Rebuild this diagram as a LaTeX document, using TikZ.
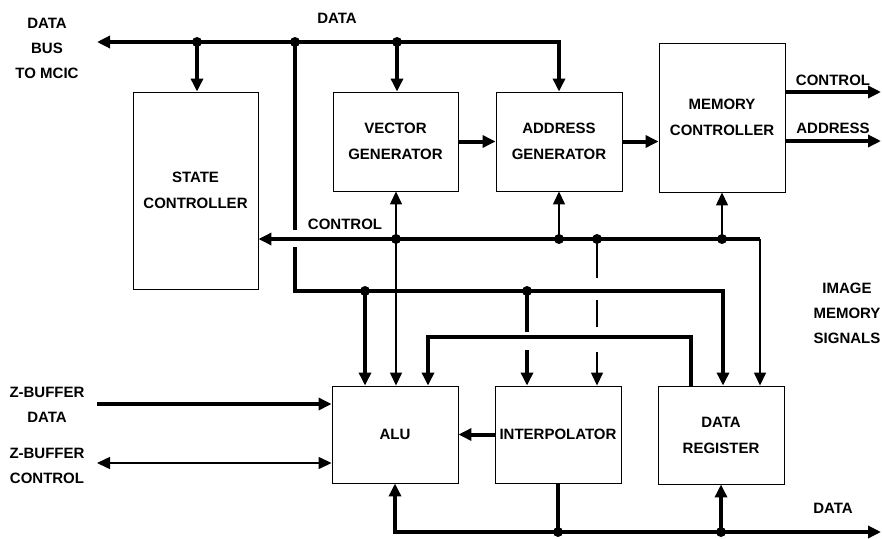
\documentclass[tikz,border=0pt]{standalone}
\usepackage{fontspec}
\setmainfont{Liberation Sans}
\usepackage{tikz}
\usetikzlibrary{arrows.meta, positioning, calc}

\begin{document}
\begin{tikzpicture}[x=10pt, y=-10pt,
    tip/.tip={Triangle[length=13pt, width=12pt]},
    block/.style={draw, line width=0.9pt, minimum width=126pt, minimum height=99pt, inner sep=0pt, align=center, font=\fontsize{15}{26}\selectfont\bfseries},
    lbl/.style={align=center, inner sep=0pt, font=\fontsize{15}{25}\selectfont\bfseries},
    bus/.style={line width=4pt},
    sig/.style={line width=1.4pt}]
  \useasboundingbox (0,0) rectangle (88.2,53.8);

  % Blocks
  \node[block, minimum width=125pt, minimum height=197pt] (state) at (19.55, 19.05) {STATE\\CONTROLLER};
  \node[block, minimum width=125pt] (vecgen) at (39.55, 14.15) {VECTOR\\GENERATOR};
  \node[block] (addrgen) at (55.9, 14.15) {ADDRESS\\GENERATOR};
  \node[block, minimum height=149pt] (memctl) at (72.2, 11.75) {MEMORY\\CONTROLLER};
  \node[block, minimum height=97pt] (alu) at (39.5, 43.45) {ALU};
  \node[block, minimum height=97pt] (interp) at (55.8, 43.45) {INTERPOLATOR};
  \node[block, minimum height=98pt] (datareg) at (72.1, 43.5) {DATA\\REGISTER};

  % Bus points
  \coordinate (dbL) at (9.7, 4.2);
  \coordinate (j1) at (19.7, 4.2);
  \coordinate (j2) at (29.5, 4.2);
  \coordinate (j3) at (39.7, 4.2);
  \coordinate (c1) at (39.6, 23.9);
  \coordinate (c2) at (55.9, 23.9);
  \coordinate (c3) at (59.7, 23.9);
  \coordinate (c4) at (72.2, 23.9);
  \coordinate (cR) at (76.0, 23.9);
  \coordinate (d0) at (29.5, 29.1);
  \coordinate (d1) at (36.5, 29.1);
  \coordinate (d2) at (52.7, 29.1);
  \coordinate (dR) at (72.3, 29.1);
  \coordinate (r1) at (69.1, 33.7);
  \coordinate (r2) at (42.8, 33.7);
  \coordinate (bR) at (88.1, 53.2);
  \coordinate (b1) at (interp.south |- bR);
  \coordinate (b2) at (datareg.south |- bR);
  \coordinate (oc) at (88.1, 9.2);
  \coordinate (oa) at (88.1, 14.1);
  \coordinate (zd) at (9.7, 40.4);
  \coordinate (zc) at (9.7, 46.3);

  % Data bus to MCIC
  \draw[bus, tip-tip] (dbL) -| (addrgen.north);
  \draw[bus, -tip] (j1) -- (j1 |- state.north);
  \draw[bus, -tip] (j3) -- (j3 |- vecgen.north);
  \draw[bus] (j2) -- ($(j2 |- c1)+(0,-0.9)$);
  \draw[bus, -tip] ($(j2 |- c1)+(0,0.8)$) -- (d0) -- (dR) -- (dR |- datareg.north);
  \draw[bus, -tip] (d1) -- (d1 |- alu.north);
  \draw[bus] (d2) -- ($(d2 |- r1)+(0,-0.5)$);
  \draw[bus, -tip] ($(d2 |- r1)+(0,1.3)$) -- (d2 |- interp.north);

  % Pipeline
  \draw[bus, -tip] (vecgen.east) -- (addrgen.west);
  \draw[bus, -tip] (addrgen.east) -- (addrgen.east -| memctl.west);
  \draw[bus, -tip] (memctl.east |- oc) -- (oc);
  \draw[bus, -tip] (memctl.east |- oa) -- (oa);

  % Control bus
  \draw[bus, -tip] (cR) -- (state.east |- cR);
  \draw[sig, -tip] (cR) -- (cR |- datareg.north);
  \draw[sig, -tip] (c1) -- (c1 |- vecgen.south);
  \draw[sig, -tip] (c1) -- (c1 |- alu.north);
  \draw[sig, -tip] (c2) -- (c2 |- addrgen.south);
  \draw[sig, -tip] (c4) -- (memctl.south);
  \draw[sig] (c3) -- ($(c3 |- d0)+(0,-1.3)$);
  \draw[sig] ($(c3 |- d0)+(0,0.9)$) -- ($(c3 |- r1)+(0,-1.0)$);
  \draw[sig, -tip] ($(c3 |- r1)+(0,1.5)$) -- (c3 |- interp.north);

  % Data register back to ALU
  \draw[bus, -tip] (r1 |- datareg.north) -- (r1) -- (r2) -- (r2 |- alu.north);
  \draw[bus, -tip] (interp.west) -- (alu.east);

  % Z-buffer
  \draw[bus, -tip] (zd) -- (zd -| alu.west);
  \draw[sig, tip-tip] (zc) -- (zc -| alu.west);

  % Output data bus
  \draw[bus, tip-tip] (alu.south) |- (bR);
  \draw[bus] (interp.south) -- (b1);
  \draw[bus, -tip] (b2) -- (datareg.south);

  % Junctions
  \fill (j1) circle (5pt) (j2) circle (5pt) (j3) circle (5pt)
        (c1) circle (5pt) (c2) circle (5pt) (c3) circle (5pt) (c4) circle (5pt)
        (d1) circle (5pt) (d2) circle (5pt) (b1) circle (5pt) (b2) circle (5pt);

  % Labels
  \node[lbl] (ldata) at (33.7, 1.8) {DATA};
  \node[lbl] (lmcic) at (4.7, 4.85) {DATA\\BUS\\TO MCIC};
  \node[lbl] (lctl) at (34.5, 22.4) {CONTROL};
  \node[lbl] (loutc) at (83.3, 8.0) {CONTROL};
  \node[lbl] (louta) at (83.3, 12.8) {ADDRESS};
  \node[lbl] (limg) at (84.7, 31.3) {IMAGE\\MEMORY\\SIGNALS};
  \node[lbl] (lzd) at (4.7, 40.45) {Z-BUFFER\\DATA};
  \node[lbl] (lzc) at (4.7, 46.55) {Z-BUFFER\\CONTROL};
  \node[lbl] (lout) at (83.3, 50.8) {DATA};
\end{tikzpicture}
\end{document}
